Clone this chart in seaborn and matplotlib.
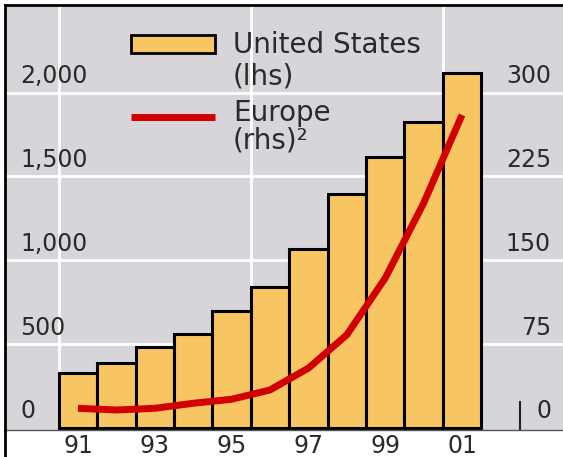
import numpy as np
import matplotlib
matplotlib.use("Agg")
import matplotlib.pyplot as plt
import matplotlib.transforms as mtrans
from matplotlib.patches import Rectangle
from matplotlib.lines import Line2D
import seaborn as sns

# data
years = ["91", "92", "93", "94", "95", "96", "97", "98", "99", "00", "01"]
us_lhs = [326, 386, 481, 560, 699, 839, 1067, 1395, 1614, 1826, 2114]
europe_rhs = [17.6, 16.1, 17.6, 22.1, 25.7, 34, 53.5, 83.3, 134, 201, 280]
x_labels = ["91", "93", "95", "97", "99", "01"]
lhs_ticks = [0, 500, 1000, 1500, 2000]
lhs_labels = ["0", "500", "1,000", "1,500", "2,000"]
rhs_ticks = [0, 75, 150, 225, 300]
rhs_labels = ["0", "75", "150", "225", "300"]

bar_col = "#f7c663"
red = "#d20000"
bg = "#d7d5d9"
txt = "#2a2a2a"

W, H = 563, 457
fig = plt.figure(figsize=(W / 100, H / 100), dpi=100)
ax = fig.add_axes([5 / W, 27 / H, 558 / W, 425 / H])
ax.set_facecolor(bg)
ax.set_axisbelow(True)

sns.barplot(x=years, y=us_lhs, color=bar_col, saturation=1, width=1,
            edgecolor="black", linewidth=2.2, ax=ax, zorder=2)

ax.set_xlim(-1.9, 12.63)
ax.set_ylim(-12, 2522)

# grid
ax.set_yticks(lhs_ticks, lhs_labels)
ax.set_xticks(range(0, len(years), 2), x_labels)
ax.set_xticks([-0.5, 4.5, 9.5], minor=True)
ax.grid(axis="y", color="white", lw=2)
ax.grid(axis="x", which="minor", color="white", lw=2)
ax.get_ygridlines()[0].set_visible(False)

ax.tick_params(axis="y", length=0, pad=-10.8, labelsize=17, labelcolor=txt)
ax.tick_params(axis="x", which="both", length=0, pad=3, labelsize=17, labelcolor=txt)
ax.set_xlabel("")
ax.set_ylabel("")
up = mtrans.ScaledTranslation(0, 0.19, fig.dpi_scale_trans)
for lab in ax.get_yticklabels():
    lab.set_horizontalalignment("left")
    lab.set_transform(lab.get_transform() + up)

for s in ["left", "top"]:
    ax.spines[s].set_color("black")
    ax.spines[s].set_linewidth(2)
ax.spines["right"].set_visible(False)
ax.spines["bottom"].set_color("#555555")
ax.spines["bottom"].set_linewidth(1)

# small mark near rhs zero
ax.axvline(11.5, ymin=0, ymax=28 / 425, color="#222222", lw=1.5)

# right axis
ax2 = ax.twinx()
ax2.set_ylim(-12 * 0.15, 2522 * 0.15)
sns.lineplot(x=np.arange(len(years)), y=europe_rhs, ax=ax2, color=red, lw=5)
ax2.lines[0].set_solid_capstyle("butt")
ax2.set_yticks(rhs_ticks, rhs_labels)
ax2.tick_params(axis="y", length=0, pad=-8.6, labelsize=17, labelcolor=txt)
for lab in ax2.get_yticklabels():
    lab.set_horizontalalignment("right")
    lab.set_transform(lab.get_transform() + up)
for s in ax2.spines.values():
    s.set_visible(False)
ax2.set_ylabel("")

# legend drawn by hand
ax.add_patch(Rectangle((0.2258, 0.8871), 0.1505, 0.0423, transform=ax.transAxes,
                       fc=bar_col, ec="black", lw=2, zorder=5))
ax.plot([0.2258, 0.3763], [0.7365, 0.7365], transform=ax.transAxes, color=red,
        lw=5, solid_capstyle="butt", zorder=5)
ax.text(0.4086, 0.869, "United States\n(lhs)", transform=ax.transAxes,
        ha="left", va="center", fontsize=20, color=txt, linespacing=1.15, zorder=6)
ax.text(0.4086, 0.713, "Europe\n(rhs)²", transform=ax.transAxes,
        ha="left", va="center", fontsize=20, color=txt, linespacing=1.0, zorder=6)

# frame line running down past the axes
fig.add_artist(Line2D([5 / W, 5 / W], [0, 27 / H], color="black", lw=2,
                      transform=fig.transFigure))

fig.savefig("out.png", dpi=100)
